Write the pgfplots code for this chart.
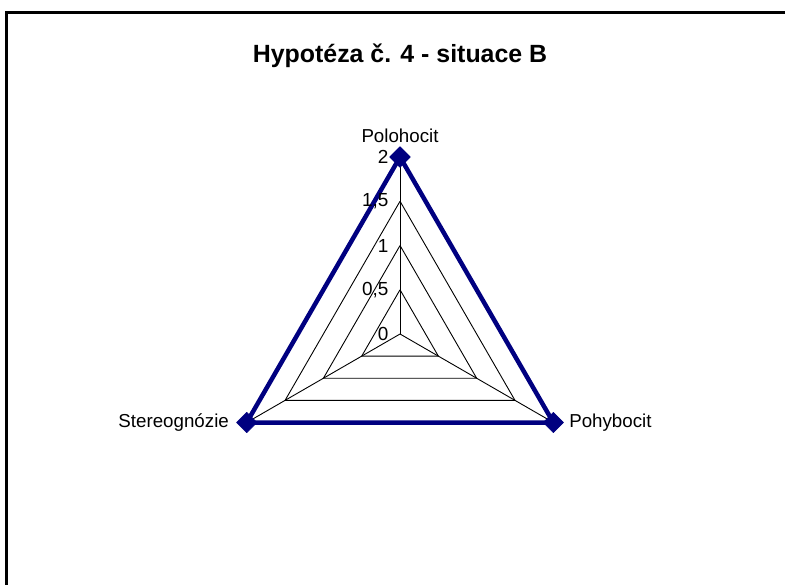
\documentclass[border=0pt]{standalone}
\usepackage{fontspec}
\setmainfont{Liberation Sans}
\usepackage{pgfplots}
\pgfplotsset{compat=1.18}
\definecolor{navyline}{RGB}{0,0,128}
\begin{document}
\begin{tikzpicture}[x=1bp,y=1bp]
\clip (0,0) rectangle (785,585);
\path (0,0) rectangle (785,585);
\begin{axis}[at={(0,0)}, anchor=south west, hide axis,
  x=88.5bp, y=88.5bp,
  xmin=-4.520, xmax=4.350, ymin=-2.836, ymax=3.774,
  clip=false]
% grid rings
\addplot[black, line width=0.9bp, data cs=polar, mark=none] coordinates {(90,0.5) (210,0.5) (330,0.5) (90,0.5)};
\addplot[black, line width=0.9bp, data cs=polar, mark=none] coordinates {(90,1) (210,1) (330,1) (90,1)};
\addplot[black, line width=0.9bp, data cs=polar, mark=none] coordinates {(90,1.5) (210,1.5) (330,1.5) (90,1.5)};
\addplot[black, line width=0.9bp, data cs=polar, mark=none] coordinates {(90,2) (210,2) (330,2) (90,2)};
% spokes
\addplot[black, line width=0.9bp, data cs=polar, mark=none] coordinates {(90,0) (90,2)};
\addplot[black, line width=0.9bp, data cs=polar, mark=none] coordinates {(210,0) (210,2)};
\addplot[black, line width=0.9bp, data cs=polar, mark=none] coordinates {(330,0) (330,2)};
% data series
\addplot[navyline, line width=4.5bp, line join=round, data cs=polar,
  mark=square*, mark size=7.2bp, mark options={rotate=45, solid, fill=navyline, draw=navyline, line width=0.5bp}]
  coordinates {(90,2) (330,2) (210,2) (90,2)};
% radial tick labels
\begin{scope}[every node/.style={inner sep=0pt, font=\fontsize{19}{19}\selectfont}]
\node[anchor=east] at (axis cs:-0.13,2) {2};
\node[anchor=east] at (axis cs:-0.13,1.5) {1,5};
\node[anchor=east] at (axis cs:-0.13,1) {1};
\node[anchor=east] at (axis cs:-0.13,0.5) {0,5};
\node[anchor=east] at (axis cs:-0.13,0) {0};
\end{scope}
% category labels
\begin{scope}[every node/.style={inner sep=0pt, font=\fontsize{18.8}{19}\selectfont}]
\node[anchor=base] at (axis cs:0,2.169) {Polohocit};
\node[anchor=base east] at (axis cs:-1.932,-1.051) {Stereognózie};
\node[anchor=base west] at (axis cs:1.910,-1.051) {Pohybocit};
\end{scope}
% title
\node[anchor=base, inner sep=0pt, font=\fontsize{25}{26}\selectfont\bfseries] at (axis cs:0,3.073) {Hypotéza č. 4 - situace B};
\end{axis}
% chart frame
\draw[black, line width=2.5bp] (6.5,-10) -- (6.5,572.5) -- (800,572.5);
\end{tikzpicture}
\end{document}
